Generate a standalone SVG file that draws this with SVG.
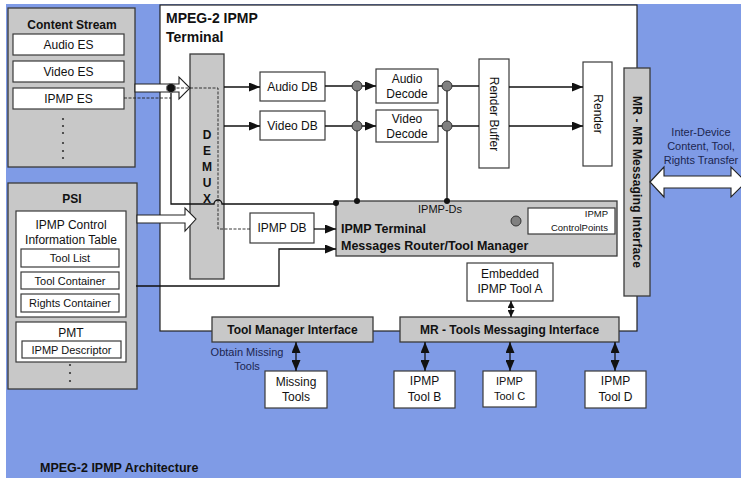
<svg xmlns="http://www.w3.org/2000/svg" width="741" height="481" viewBox="0 0 741 481">
  <defs>
    <style>
      text { font-family: "Liberation Sans", Arial, sans-serif; fill: #111; }
      .t12 { font-size: 12px; text-anchor: middle; }
      .t11 { font-size: 11px; text-anchor: middle; }
      .b12 { font-size: 12px; font-weight: bold; text-anchor: middle; }
      .navy { fill: #1c2650; font-size: 11px; text-anchor: middle; }
      .gray { fill: #c8c8c8; stroke: #3a3a3a; stroke-width: 1.3; }
      .white { fill: #ffffff; stroke: #3a3a3a; stroke-width: 1.2; }
      .hollow { fill: #ffffff; stroke: #222; stroke-width: 1.1; }
      .wire { fill: none; stroke: #111; stroke-width: 1.3; }
      .dash { fill: none; stroke: #222; stroke-width: 0.9; stroke-dasharray: 3 1.5; }
      .arr { marker-end: url(#ah); }
      .dbl { marker-start: url(#ah); marker-end: url(#ah); }
      .dbls { marker-start: url(#ahs); marker-end: url(#ahs); }
      .junc { fill: #808080; stroke: #333; stroke-width: 1; }
      .dot { fill: #111; }
      .vdots { fill: #333; }
    </style>
    <marker id="ah" markerUnits="userSpaceOnUse" markerWidth="11" markerHeight="9" refX="11" refY="4.5" orient="auto-start-reverse">
      <path d="M0,0 L11,4.5 L0,9 z" fill="#111"/>
    </marker>
    <marker id="ahs" markerUnits="userSpaceOnUse" markerWidth="7" markerHeight="7" refX="7" refY="3.5" orient="auto-start-reverse">
      <path d="M0,0 L7,3.5 L0,7 z" fill="#111"/>
    </marker>
  </defs>

  <!-- backdrop -->
  <rect x="0" y="0" width="741" height="481" fill="#ffffff"/>
  <rect x="6" y="4" width="735" height="474" fill="#7f9be6"/>

  <!-- terminal enclosure -->
  <g id="terminal">
    <rect x="160" y="5" width="477" height="326" fill="#ffffff" stroke="#222" stroke-width="1.2"/>
    <text x="166" y="23" style="font-size:14px;font-weight:bold">MPEG-2 IPMP</text>
    <text x="166" y="42" style="font-size:14px;font-weight:bold">Terminal</text>
  </g>

  <!-- content stream -->
  <g id="content-stream">
    <rect class="gray" x="8" y="8" width="127" height="159"/>
    <text class="b12" x="72" y="29">Content Stream</text>
    <rect class="white" x="13" y="34" width="111" height="21"/>
    <text class="t12" x="68.5" y="49">Audio ES</text>
    <rect class="white" x="13" y="61" width="111" height="21"/>
    <text class="t12" x="68.5" y="76">Video ES</text>
    <rect class="white" x="13" y="88" width="111" height="21"/>
    <text class="t12" x="68.5" y="103">IPMP ES</text>
    <g class="vdots">
      <circle cx="63" cy="119" r="1.1"/><circle cx="63" cy="126" r="1.1"/><circle cx="63" cy="133" r="1.1"/>
      <circle cx="63" cy="143" r="1.1"/><circle cx="63" cy="151" r="1.1"/><circle cx="63" cy="158" r="1.1"/>
    </g>
  </g>

  <!-- PSI -->
  <g id="psi">
    <rect class="gray" x="8" y="183" width="129" height="206"/>
    <text class="b12" x="72" y="203">PSI</text>
    <rect class="white" x="16" y="211" width="110" height="106"/>
    <text class="t12" x="71" y="229">IPMP Control</text>
    <text class="t12" x="71" y="244">Information Table</text>
    <rect class="white" x="21" y="249" width="98" height="18"/>
    <text class="t11" x="70" y="262">Tool List</text>
    <rect class="white" x="21" y="272" width="98" height="17"/>
    <text class="t11" x="70" y="285">Tool Container</text>
    <rect class="white" x="21" y="294" width="98" height="18"/>
    <text class="t11" x="70" y="307">Rights Container</text>
    <rect class="white" x="16" y="322" width="110" height="40"/>
    <text class="t12" x="71" y="337">PMT</text>
    <rect class="white" x="22" y="341" width="99" height="17"/>
    <text class="t11" x="71.5" y="354">IPMP Descriptor</text>
    <g class="vdots">
      <circle cx="70" cy="365" r="1.1"/><circle cx="70" cy="373" r="1.1"/><circle cx="70" cy="381" r="1.1"/>
    </g>
  </g>

  <!-- demultiplexer -->
  <g id="demux">
    <rect class="gray" x="190" y="54" width="34" height="225"/>
    <text class="b12" x="207" y="139">D</text>
    <text class="b12" x="207" y="155">E</text>
    <text class="b12" x="207" y="171">M</text>
    <text class="b12" x="207" y="187">U</text>
    <text class="b12" x="207" y="203">X</text>
  </g>

  <g id="audio-db">
    <rect class="white" x="260" y="72" width="65" height="29"/>
    <text class="t12" x="292.5" y="91">Audio DB</text>
  </g>
  <g id="video-db">
    <rect class="white" x="260" y="111" width="65" height="29"/>
    <text class="t12" x="292.5" y="130">Video DB</text>
  </g>
  <g id="audio-decode">
    <rect class="white" x="376" y="69" width="62" height="34"/>
    <text class="t12" x="407" y="83">Audio</text>
    <text class="t12" x="407" y="98">Decode</text>
  </g>
  <g id="video-decode">
    <rect class="white" x="376" y="110" width="62" height="32"/>
    <text class="t12" x="407" y="123">Video</text>
    <text class="t12" x="407" y="138">Decode</text>
  </g>
  <g id="render-buffer">
    <rect class="white" x="479" y="59" width="30" height="109"/>
    <text class="t12" transform="translate(494,114) rotate(90)" dominant-baseline="central">Render Buffer</text>
  </g>
  <g id="render">
    <rect class="white" x="583" y="62" width="29" height="104"/>
    <text class="t12" transform="translate(597.5,114) rotate(90)" dominant-baseline="central">Render</text>
  </g>

  <g id="mr-mr-interface">
    <rect class="gray" x="624" y="68" width="26" height="228"/>
    <text class="b12" transform="translate(637,182) rotate(90)" dominant-baseline="central" style="letter-spacing:0.2px">MR - MR Messaging Interface</text>
  </g>

  <g id="inter-device">
    <polygon class="hollow" points="650,182 664,167 664,176 731,176 731,167 746,182 731,197 731,188 664,188 664,197"/>
    <text class="navy" x="701" y="136">Inter-Device</text>
    <text class="navy" x="701" y="150">Content, Tool,</text>
    <text class="navy" x="701" y="164">Rights Transfer</text>
  </g>

  <g id="ipmp-db">
    <rect class="white" x="250" y="213" width="64" height="30"/>
    <text class="t12" x="282" y="232">IPMP DB</text>
  </g>

  <g id="tool-manager">
    <rect class="gray" x="336" y="201" width="281" height="55"/>
    <text class="t11" x="440" y="213">IPMP-Ds</text>
    <text x="341" y="233" style="font-size:12.5px;font-weight:bold">IPMP Terminal</text>
    <text x="341" y="250" style="font-size:12.5px;font-weight:bold">Messages Router/Tool Manager</text>
    <circle class="junc" cx="516" cy="221" r="5"/>
    <rect class="white" x="528" y="208" width="87" height="26"/>
    <text x="608" y="217" style="font-size:9.5px;text-anchor:end">IPMP</text>
    <text x="608" y="231" style="font-size:9.5px;text-anchor:end">ControlPoints</text>
  </g>

  <g id="tool-a">
    <rect class="white" x="467" y="263" width="86" height="38"/>
    <text class="t12" x="510" y="278">Embedded</text>
    <text class="t12" x="510" y="293">IPMP Tool A</text>
  </g>

  <g id="tool-manager-interface">
    <rect class="gray" x="212" y="317" width="161" height="25"/>
    <text class="b12" x="292.5" y="334">Tool Manager Interface</text>
  </g>
  <g id="mr-tools-interface">
    <rect class="gray" x="400" y="317" width="219" height="25"/>
    <text class="b12" x="509.5" y="334">MR - Tools Messaging Interface</text>
  </g>

  <g id="missing-tools">
    <rect class="white" x="265" y="371" width="62" height="37"/>
    <text class="t12" x="296" y="386">Missing</text>
    <text class="t12" x="296" y="401">Tools</text>
  </g>
  <g id="tool-b">
    <rect class="white" x="394" y="371" width="61" height="37"/>
    <text class="t12" x="424.5" y="385">IPMP</text>
    <text class="t12" x="424.5" y="401">Tool B</text>
  </g>
  <g id="tool-c">
    <rect class="white" x="483" y="371" width="53" height="36"/>
    <text class="t11" x="509.5" y="385">IPMP</text>
    <text class="t11" x="509.5" y="400">Tool C</text>
  </g>
  <g id="tool-d">
    <rect class="white" x="585" y="371" width="61" height="37"/>
    <text class="t12" x="615.5" y="385">IPMP</text>
    <text class="t12" x="615.5" y="401">Tool D</text>
  </g>

  <text class="navy" x="247" y="356">Obtain Missing</text>
  <text class="navy" x="247" y="370">Tools</text>

  <text x="40" y="472" style="font-size:12.5px;font-weight:bold">MPEG-2 IPMP Architecture</text>

  <!-- connectors -->
  <g id="connectors">
    <!-- stream inputs into the demultiplexer -->
    <polygon class="hollow" points="135,84 179,84 179,77 190,88 179,99 179,92 135,92"/>
    <polygon class="hollow" points="137,215 185,215 185,208 196,219 185,231 185,223 137,223"/>

    <!-- IPMP data path -->
    <path class="dash" d="M124,98 H171"/>
    <path class="dash" d="M172,88 H218 V229 H250"/>
    <path class="wire" d="M171,88 V204 H214 a4,4 0 0 1 8,0 H336"/>
    <circle cx="171" cy="88" r="4.5" fill="#111" stroke="#777" stroke-width="1.2"/>

    <!-- demux to buffers -->
    <path class="wire arr" d="M224,87 H260"/>
    <path class="wire arr" d="M224,126 H260"/>

    <!-- buffers to decoders -->
    <path class="wire arr" d="M325,86 H376"/>
    <path class="wire arr" d="M325,126 H376"/>
    <path class="wire" d="M357,86 V201"/>

    <!-- decoders to render buffer -->
    <path class="wire" d="M438,86 H479"/>
    <path class="wire" d="M438,126 H479"/>
    <path class="wire" d="M447,86 V201"/>

    <!-- render buffer to render -->
    <path class="wire arr" d="M509,87 H583"/>
    <path class="wire arr" d="M509,126 H583"/>

    <circle class="junc" cx="357" cy="86" r="5"/>
    <circle class="junc" cx="357" cy="126" r="5"/>
    <circle class="junc" cx="447" cy="86" r="5"/>
    <circle class="junc" cx="447" cy="126" r="5"/>
    <circle class="dot" cx="336" cy="203" r="3"/>
    <circle class="dot" cx="357" cy="201" r="3"/>
    <circle class="dot" cx="447" cy="201" r="3"/>

    <!-- IPMP DB and PSI into the tool manager -->
    <path class="wire arr" d="M314,229 H336"/>
    <path class="wire arr" d="M136,286 H279 V249 H336"/>

    <!-- tool interfaces -->
    <path class="wire dbls" d="M511,301 V317"/>
    <path class="wire dbl" d="M296,342 V371"/>
    <path class="wire dbl" d="M425,342 V371"/>
    <path class="wire dbl" d="M510,342 V371"/>
    <path class="wire dbl" d="M615,342 V371"/>
  </g>
</svg>
